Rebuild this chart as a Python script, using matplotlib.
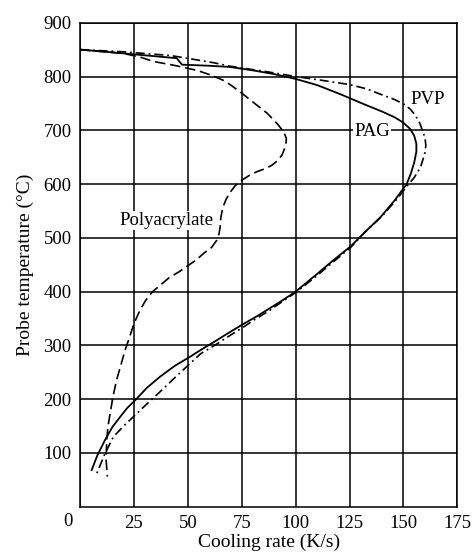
import numpy as np
import matplotlib
matplotlib.use("Agg")
import matplotlib.pyplot as plt

plt.rcParams['font.family'] = ['Liberation Serif', 'DejaVu Serif']
plt.rcParams['lines.scale_dashes'] = False

# cooling rate (K/s) vs probe temperature (C) for each quenchant
pag_rate = [0, 18.6, 44.9, 47.3, 60, 69.7, 80, 90, 100, 110, 120.8, 132, 140, 146, 150,
            153, 155, 156, 156, 155, 153.5, 151.5, 146, 139.5, 132, 125.5, 118, 110,
            100, 94, 88, 82, 75, 68, 62, 55.8, 51.1, 44, 37.2, 31, 25.6, 22, 18.6,
            15, 11.6, 8, 5.4]
pag_temp = [850, 843.6, 834, 822, 820, 817.7, 811.5, 804.5, 795.5, 784, 767, 748, 735, 724, 714,
            703, 690, 675, 660, 640, 620, 600, 570, 539, 510, 484, 460, 433,
            400, 384, 369, 354, 338, 321, 306, 291, 279, 262, 242, 221, 198, 184, 167,
            148, 124, 95, 68]

pvp_rate = [0, 20, 42, 49.6, 62, 69.7, 85, 100, 112, 125, 133, 140, 146, 150, 153,
            155.5, 157.5, 158.8, 160, 160.4, 160, 159, 158, 155, 152.4, 147, 140, 132,
            125.5, 118, 110, 100, 94, 88, 81, 75, 69, 64, 59.5, 55.8, 51.1, 44, 37.2,
            31, 25.6, 20, 15.5, 11.6, 7.8]
pvp_temp = [850, 846, 839, 834, 825.6, 819, 810, 800, 793, 785, 777, 766, 757, 749, 740,
            728, 714, 700, 686, 672, 658, 645, 632, 612, 600, 572, 540, 510,
            482, 457, 430, 398, 382, 365, 348, 332, 317, 304, 293, 284, 266.5, 240, 214,
            191, 170.5, 149, 130, 99, 62]

poly_rate = [0, 20, 28, 34, 43.4, 54.2, 61.2, 67, 71, 75, 81, 87, 91.5, 94.5, 95.7,
             95.6, 95.3, 93.7, 91.5, 89, 85.5, 82, 78.5, 75, 72, 69.7, 67.8, 66.6,
             65.8, 65.3, 65, 64.5, 63.5, 61, 57.3, 54, 50.3, 46, 41.4, 37.5, 33.7,
             30.5, 27.9, 26.3, 25, 22.8, 20.9, 19, 17, 15.3, 14, 13, 12.4, 12.1, 12.7]
poly_temp = [850, 843, 836, 828, 821, 811.5, 802, 792, 781, 769, 750, 731, 712, 697, 685,
             678, 670, 654, 643, 635, 628, 623, 616, 607, 597, 585, 572, 560,
             548, 537, 520, 508, 496, 482, 471, 459, 449, 437, 426, 413, 400,
             384, 366, 352, 340, 313, 291, 264, 236, 205, 174, 150, 124, 87, 56]

fig = plt.figure(figsize=(4.72, 5.57), dpi=100)
ax = fig.add_axes([0.1695, 0.0903, 0.7994, 0.8689])

ax.plot(pag_rate, pag_temp, color='black', lw=1.3, solid_joinstyle='round')
ax.plot(pvp_rate, pvp_temp, color='black', lw=1.2, dashes=(6.5, 2.8, 1.3, 2.8))
ax.plot(poly_rate, poly_temp, color='black', lw=1.2, dashes=(7.5, 3.5))

ax.set_xlim(0, 175)
ax.set_ylim(0, 900)
ax.set_xticks(np.arange(0, 176, 25))
ax.set_xticklabels([''] + [str(v) for v in range(25, 176, 25)])
ax.set_yticks(np.arange(100, 901, 100))
ax.grid(True, color='black', lw=1.1)
ax.set_axisbelow(True)
ax.tick_params(length=0, labelsize=13.5, pad=6)
for s in ax.spines.values():
    s.set_linewidth(1.1)

# origin label sits to the left of the corner
ax.annotate('0', xy=(0, 0), xytext=(-9, -10.5), textcoords='offset points',
            ha='center', va='center', fontsize=13.5)

ax.set_xlabel('Cooling rate (K/s)', fontsize=14, labelpad=1.5)
ax.set_ylabel('Probe temperature (°C)', fontsize=14, labelpad=7)

box = dict(facecolor='white', edgecolor='none', pad=0.5)
ax.text(161.3, 758, 'PVP', fontsize=13.5, ha='center', va='center', bbox=box)
ax.text(135.4, 698, 'PAG', fontsize=13.5, ha='center', va='center', bbox=box)
ax.text(40.2, 532, 'Polyacrylate', fontsize=13.5, ha='center', va='center', bbox=box)

fig.savefig('out.png', dpi=100)
